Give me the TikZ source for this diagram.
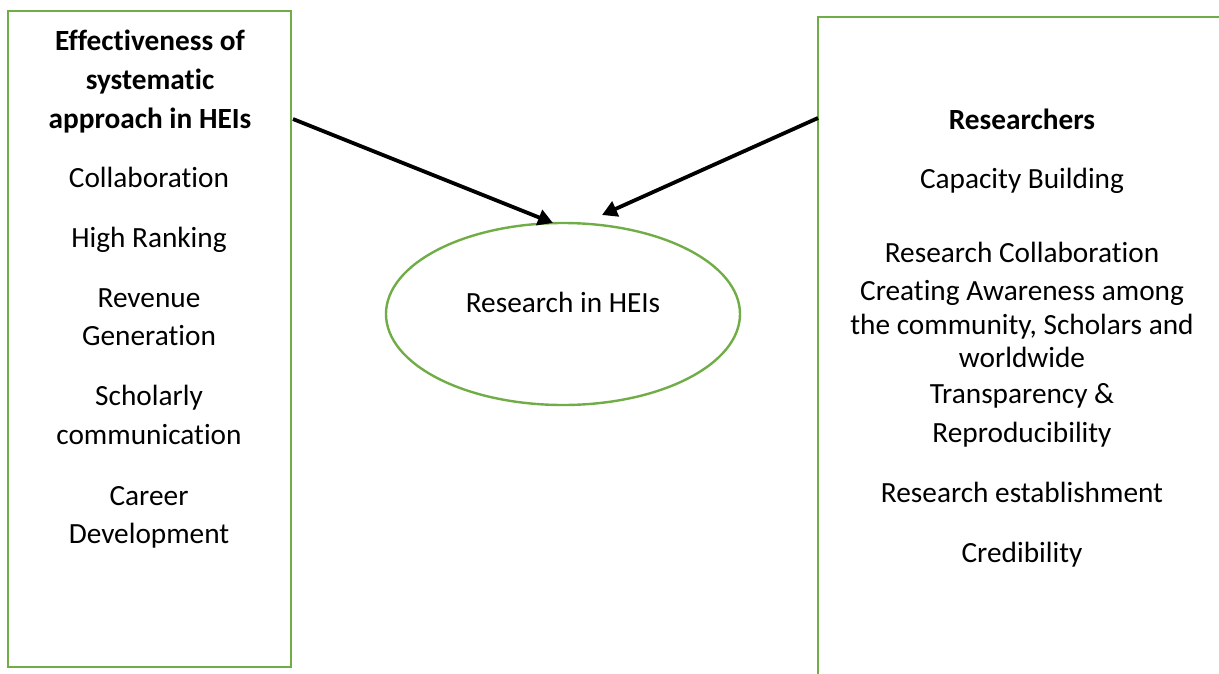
\documentclass[tikz,border=0pt]{standalone}
\usepackage{fontspec}
\setmainfont[RawFeature={-liga;-clig}]{Carlito}
\usetikzlibrary{arrows.meta,shapes.geometric}
\definecolor{wgreen}{RGB}{112,173,71}
\begin{document}
\begin{tikzpicture}[x=1pt,y=-1pt,
  greenline/.style={draw=wgreen, line width=2.4pt},
  txt/.style={font=\fontsize{29.3}{36}\selectfont, inner sep=0pt, anchor=base},
  hd/.style={txt, font=\fontsize{29.3}{36}\selectfont\bfseries},
  arr/.style={draw=black, line width=3.8pt, -{Triangle[length=15pt,width=16pt]}}]
\useasboundingbox (0,0) rectangle (1219,673);
% boxes
\draw[greenline] (8,667) -- (8,11) -- (291,11) -- (291,667) -- cycle;
\draw[greenline] (818,680) -- (818,17) -- (1230,17);
\node[greenline, ellipse, minimum width=354pt, minimum height=182pt, inner sep=0pt] (core) at (563,314) {};
\node[txt] (coretxt) at (563,312) {Research in HEIs};
% left box texts
\node[hd] (lh1) at (150,50) {Effectiveness of};
\node[hd] (lh2) at (150,89) {systematic};
\node[hd] (lh3) at (150,128) {approach in HEIs};
\node[txt] (l1) at (149,187) {Collaboration};
\node[txt] (l2) at (149,247) {High Ranking};
\node[txt] (l3a) at (149,307) {Revenue};
\node[txt] (l3b) at (149,345) {Generation};
\node[txt] (l4a) at (149,405) {Scholarly};
\node[txt] (l4b) at (149,444) {communication};
\node[txt] (l5a) at (149,505) {Career};
\node[txt] (l5b) at (149,543) {Development};
% right box texts
\node[hd] (rh) at (1022,129) {Researchers};
\node[txt] (r1) at (1022,188) {Capacity Building};
\node[txt] (r2) at (1022,262) {Research Collaboration};
\node[txt] (r3a) at (1022,300) {Creating Awareness among};
\node[txt] (r3b) at (1022,334) {the community, Scholars and};
\node[txt] (r3c) at (1022,367) {worldwide};
\node[txt] (r4a) at (1022,403) {Transparency \&};
\node[txt] (r4b) at (1022,442) {Reproducibility};
\node[txt] (r5) at (1022,502) {Research establishment};
\node[txt] (r6) at (1022,562) {Credibility};
% arrows
\coordinate (a1s) at (293,119);
\coordinate (a1e) at (553,223);
\coordinate (a2s) at (818,118);
\coordinate (a2e) at (602,215);
\draw[arr] (a1s) -- (a1e);
\draw[arr] (a2s) -- (a2e);
\end{tikzpicture}
\end{document}
